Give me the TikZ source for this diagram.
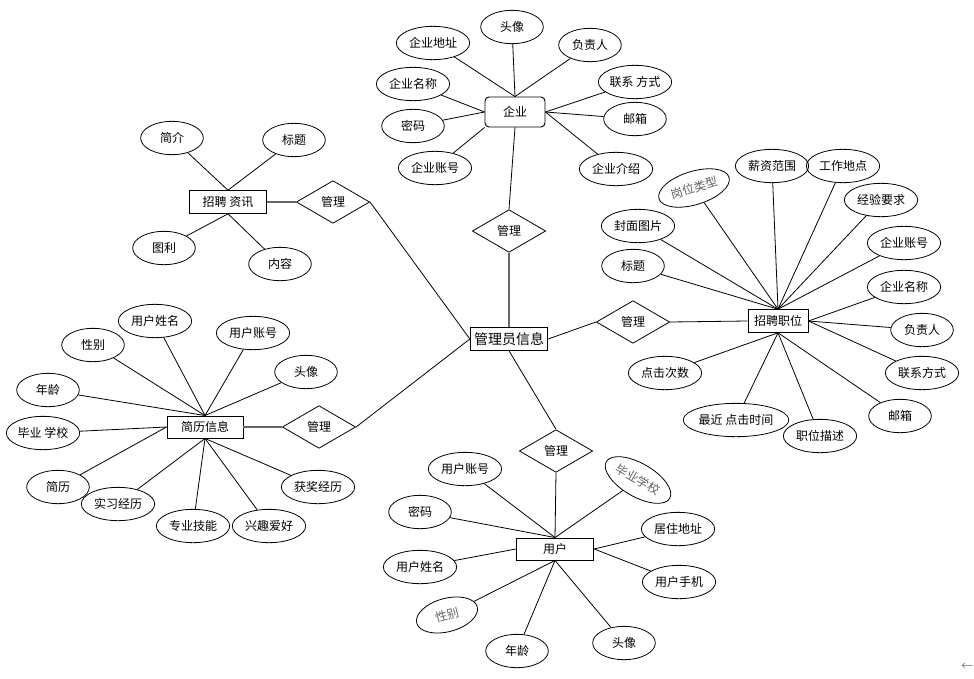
\documentclass[tikz,border=0pt]{standalone}
\usepackage{fontspec}
\setmainfont{Noto Sans CJK SC}
\usetikzlibrary{shapes.geometric}

\begin{document}
\begin{tikzpicture}[
    x=0.75pt, y=-0.75pt,
    attr/.style={ellipse, draw, line width=0.6pt, minimum width=#1, minimum height=25pt, inner sep=0pt, font=\fontsize{9}{10}\selectfont},
    attr/.default=47pt,
    ent/.style={rectangle, draw, line width=0.7pt, minimum width=#1, minimum height=17pt, inner sep=0pt, font=\fontsize{9}{10}\selectfont},
    ent/.default=58pt,
    rel/.style={diamond, draw, line width=0.6pt, minimum width=55pt, minimum height=32pt, inner sep=0pt, font=\fontsize{9}{10}\selectfont},
    faded/.style={text=gray!75!black},
    link/.style={line width=0.6pt},
    tie/.style={gray!80!black, line width=1.4pt}
]
\useasboundingbox (0,0) rectangle (974,678);

% Centre
\node[ent=58pt, font=\fontsize{10.5}{12}\selectfont] (admin) at (509,339) {管理员信息};

% Enterprise
\node[ent=45pt, minimum height=22.5pt, rounded corners=3pt] (qy) at (515,112) {企业};
\node[attr] (qyTx) at (512,27) {头像};
\node[attr=55pt] (qyDz) at (433,43) {企业地址};
\node[attr] (qyFzr) at (590,45) {负责人};
\node[attr=55pt] (qyMc) at (413,84) {企业名称};
\node[attr=55pt] (qyLx) at (635,82) {联系 方式};
\node[attr] (qyMm) at (413,126) {密码};
\node[attr] (qyYx) at (635,119) {邮箱};
\node[attr=55pt] (qyZh) at (435,168) {企业账号};
\node[attr=55pt] (qyJs) at (616,169) {企业介绍};
\node[rel] (glQ) at (509,231) {管理};

% Job posting
\node[ent=45pt] (zp) at (778,321) {招聘职位};
\node[attr=55pt, rotate=17, faded] (zpGw) at (694,188) {岗位类型};
\node[attr=55pt] (zpXz) at (772,166) {薪资范围};
\node[attr=55pt] (zpDd) at (843,166) {工作地点};
\node[attr=55pt] (zpJy) at (881,200) {经验要求};
\node[attr=55pt] (zpFm) at (638,226) {封面图片};
\node[attr=55pt] (zpQz) at (904,243) {企业账号};
\node[attr] (zpBt) at (633,266) {标题};
\node[attr=55pt] (zpQm) at (904,287) {企业名称};
\node[attr] (zpFz) at (922,330) {负责人};
\node[attr=55pt] (zpLx) at (922,373) {联系方式};
\node[attr=55pt] (zpDj) at (665,373) {点击次数};
\node[attr=72pt] (zpZj) at (736,420) {最近 点击时间};
\node[attr=55pt] (zpMs) at (820,436) {职位描述};
\node[attr] (zpYx) at (900,416) {邮箱};
\node[rel] (glZ) at (633,322) {管理};

% News
\node[ent=58pt] (zx) at (228,202) {招聘 资讯};
\node[attr] (zxJj) at (172,138) {简介};
\node[attr] (zxBt) at (294,140) {标题};
\node[attr] (zxTl) at (164,248) {图利};
\node[attr] (zxNr) at (280,264) {内容};
\node[rel] (glX) at (333,202) {管理};

% Resume
\node[ent=57pt, minimum height=16.5pt] (jl) at (205,427) {简历信息};
\node[attr=55pt] (jlXm) at (155,321) {用户姓名};
\node[attr] (jlXb) at (93,345) {性别};
\node[attr=55pt] (jlZh) at (253,333) {用户账号};
\node[attr] (jlTx) at (306,372) {头像};
\node[attr] (jlNl) at (48,390) {年龄};
\node[attr=55pt] (jlXx) at (43,433) {毕业 学校};
\node[attr] (jlJl) at (58,487) {简历};
\node[attr=55pt] (jlSx) at (118,504) {实习经历};
\node[attr=55pt] (jlJn) at (193,526) {专业技能};
\node[attr=55pt] (jlAh) at (269,526) {兴趣爱好};
\node[attr=55pt] (jlHj) at (318,487) {获奖经历};
\node[rel] (glJ) at (319,427) {管理};

% User
\node[ent=58pt, minimum height=16.5pt] (yh) at (555,549) {用户};
\node[attr=55pt] (yhZh) at (465,469) {用户账号};
\node[attr] (yhMm) at (420,512) {密码};
\node[attr=55pt, rotate=-30, faded] (yhXx) at (638,480) {毕业学校};
\node[attr=55pt] (yhDz) at (678,529) {居住地址};
\node[attr=55pt] (yhXm) at (420,567) {用户姓名};
\node[attr=55pt] (yhSj) at (679,582) {用户手机};
\node[attr, rotate=15, faded] (yhXb) at (447,615) {性别};
\node[attr] (yhNl) at (517,651) {年龄};
\node[attr] (yhTx) at (624,643) {头像};
\node[rel] (glY) at (556,451) {管理};

\node[text=gray, font=\fontsize{9}{10}\selectfont] (back) at (967,667) {←};

% Enterprise links
\draw[link] (qy.north) -- (qyTx);
\draw[link] (qy.north) -- (qyDz);
\draw[link] (qy.north) -- (qyFzr);
\draw[link] (qy.west) -- (qyMc);
\draw[link] (qy.west) -- (qyMm);
\draw[link] (qy.south west) -- (qyZh);
\draw[link] (qy.east) -- (qyLx);
\draw[link] (qy.east) -- (qyYx);
\draw[link] (qy.east) -- (qyJs);
\draw[link] (qy.south) -- (glQ.north);
\draw[tie] (glQ.south) -- (admin.north);

% Job posting links
\draw[link] (zp.north) -- (zpGw);
\draw[link] (zp.north) -- (zpXz);
\draw[link] (zp.north) -- (zpDd);
\draw[link] (zp.north) -- (zpJy);
\draw[link] (zp.north) -- (zpFm);
\draw[link] (zp.north) -- (zpQz);
\draw[link] (zp.north) -- (zpBt);
\draw[link] (zp.east) -- (zpQm);
\draw[link] (zp.east) -- (zpFz);
\draw[link] (zp.east) -- (zpLx);
\draw[link] (zp.south) -- (zpDj);
\draw[link] (zp.south) -- (zpZj);
\draw[link] (zp.south) -- (zpMs);
\draw[link] (zp.south) -- (zpYx);
\draw[link] (glZ.east) -- (zp.west);
\draw[link] (admin.east) -- (glZ.west);

% News links
\draw[link] (zx.north) -- (zxJj);
\draw[link] (zx.north) -- (zxBt);
\draw[link] (zx.south) -- (zxTl);
\draw[link] (zx.south) -- (zxNr);
\draw[tie] (zx.east) -- (glX.west);
\draw[link] (glX.east) -- (admin.west);

% Resume links
\draw[link] (jl.north) -- (jlXm);
\draw[link] (jl.north) -- (jlXb);
\draw[link] (jl.north) -- (jlZh);
\draw[link] (jl.north) -- (jlTx);
\draw[link] (jl.north) -- (jlNl);
\draw[link] (jl.west) -- (jlXx);
\draw[link] (jl.west) -- (jlJl);
\draw[link] (jl.south) -- (jlSx);
\draw[link] (jl.south) -- (jlJn);
\draw[link] (jl.south) -- (jlAh);
\draw[link] (jl.south) -- (jlHj);
\draw[tie] (jl.east) -- (glJ.west);
\draw[link] (glJ.east) -- (admin.west);

% User links
\draw[link] (yh.north) -- (yhZh);
\draw[link] (yh.north) -- (yhMm);
\draw[link] (yh.north) -- (yhXx);
\draw[link] (yh.west) -- (yhXm);
\draw[link] (yh.east) -- (yhDz);
\draw[link] (yh.east) -- (yhSj);
\draw[link] (yh.south) -- (yhXb);
\draw[link] (yh.south) -- (yhNl);
\draw[link] (yh.south) -- (yhTx);
\draw[link] (glY.south) -- (yh.north);
\draw[link] (admin.south) -- (glY.north);
\end{tikzpicture}
\end{document}
